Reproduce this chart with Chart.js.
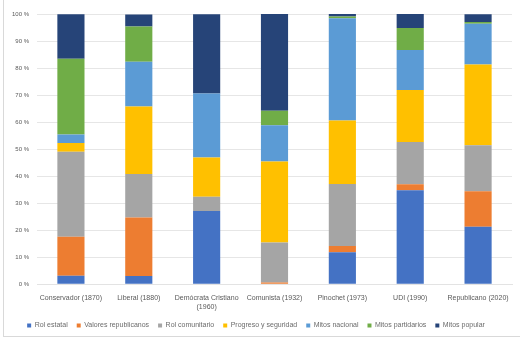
<!DOCTYPE html>
<html>
<head>
  <title>Discursos por partido</title>
  <script src="https://cdn.jsdelivr.net/npm/chart.js"></script>
  <style>
    body {
        margin: 0;
        background-color: white;
    }
    #wrap {
        position: relative;
        width: 520px;
        height: 340px;
    }
    #frame {
        position: absolute;
        left: 3px;
        top: 0;
        width: 517px;
        height: 337px;
        border-left: 1px solid #d9d9d9;
        border-bottom: 1px solid #d9d9d9;
        box-sizing: border-box;
        pointer-events: none;
    }
  </style>
</head>
<body>

    <div id="wrap">
        <canvas id="myChart" width="520" height="340"></canvas>
        <div id="frame"></div>
    </div>

    <script>
        // partidos (eje x)
        const partidos = [
            'Conservador (1870)',
            'Liberal (1880)',
            ['Demócrata Cristiano', '(1960)'],
            'Comunista (1932)',
            'Pinochet (1973)',
            'UDI (1990)',
            'Republicano (2020)'
        ];

        // porcentaje de cada categoría por partido
        const rolEstatal       = [3.1, 3.0, 27.1, 0.0, 11.8, 34.8, 21.3];
        const valoresRepub     = [14.5, 21.7, 0.0, 0.6, 2.3, 2.2, 13.1];
        const rolComunitario   = [31.4, 16.1, 5.3, 14.8, 23.0, 15.6, 17.0];
        const progresoSeg      = [3.3, 25.0, 14.5, 30.0, 23.5, 19.3, 29.9];
        const mitosNacional    = [3.1, 16.5, 23.7, 13.4, 37.8, 14.8, 15.1];
        const mitosPartidarios = [28.0, 13.1, 0.0, 5.4, 0.7, 8.1, 0.6];
        const mitosPopular     = [16.5, 4.4, 29.3, 35.8, 0.9, 5.2, 2.9];

        const series = [
            { label: 'Rol estatal',           data: rolEstatal,       color: '#4472C4' },
            { label: 'Valores republicanos',  data: valoresRepub,     color: '#ED7D31' },
            { label: 'Rol comunitario',       data: rolComunitario,   color: '#A5A5A5' },
            { label: 'Progreso y seguridad',  data: progresoSeg,      color: '#FFC000' },
            { label: 'Mitos nacional',        data: mitosNacional,    color: '#5B9BD5' },
            { label: 'Mitos partidarios',     data: mitosPartidarios, color: '#70AD47' },
            { label: 'Mitos popular',         data: mitosPopular,     color: '#264478' }
        ];

        const ctx = document.getElementById('myChart').getContext('2d');
        const myChart = new Chart(ctx, {
            type: 'bar',
            data: {
                labels: partidos,
                datasets: series.map(s => ({
                    label: s.label,
                    data: s.data,
                    backgroundColor: s.color,
                    borderWidth: 0,
                    barPercentage: 0.4,
                    categoryPercentage: 1.0
                }))
            },
            options: {
                responsive: false,
                animation: false,
                layout: {
                    padding: { left: 0, right: 8, top: 14, bottom: 1 }
                },
                plugins: {
                    legend: {
                        position: 'bottom',
                        labels: {
                            boxWidth: 4,
                            boxHeight: 4,
                            padding: 9,
                            color: '#6b6b6b',
                            font: { family: 'Liberation Sans', size: 7 }
                        }
                    },
                    tooltip: { enabled: false }
                },
                scales: {
                    x: {
                        stacked: true,
                        grid: { display: false },
                        border: { color: '#e3e3e3' },
                        ticks: {
                            color: '#595959',
                            maxRotation: 0,
                            autoSkip: false,
                            padding: 2,
                            font: { family: 'Liberation Sans', size: 7 }
                        }
                    },
                    y: {
                        stacked: true,
                        min: 0,
                        max: 100,
                        border: { display: false },
                        grid: { color: '#e6e6e6', drawTicks: false },
                        ticks: {
                            stepSize: 10,
                            padding: 8,
                            color: '#595959',
                            font: { family: 'Liberation Sans', size: 6 },
                            callback: v => v + ' %'
                        },
                        afterFit: scale => { scale.width = 37; }
                    }
                }
            }
        });
    </script>

</body>
</html>
